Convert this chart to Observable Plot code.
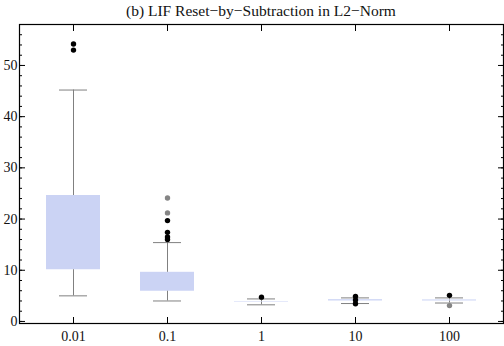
<!DOCTYPE html>
<html><head><meta charset="utf-8">
<script src="https://cdn.jsdelivr.net/npm/d3@7"></script>
<script src="https://cdn.jsdelivr.net/npm/@observablehq/plot@0.6"></script>
<style>
body{margin:0;background:#fff;}
#title{height:22px;width:504px;font-family:"Liberation Serif","Times New Roman",serif;font-size:15.5px;line-height:22px;padding-left:18px;box-sizing:border-box;text-align:center;color:#111;}
svg text{font-family:"Liberation Serif","Times New Roman",serif !important;}
</style></head><body>
<div id="title">(b) LIF Reset−by−Subtraction in L2−Norm</div>
<div id="chart"></div>
<script>
const categories = ["0.01", "0.1", "1", "10", "100"];
const q1 = [10.1, 5.9, 3.8, 4.0, 4.0];
const q3 = [24.6, 9.6, 3.9, 4.25, 4.2];
const whiskerLow = [5.0, 4.0, 3.25, 3.5, 3.6];
const whiskerHigh = [45.2, 15.4, 4.4, 4.6, 4.6];
const outlierCategory = ["0.01","0.01","0.1","0.1","0.1","0.1","0.1","0.1","1","10","10","10","100","100"];
const outlierValue =    [54.2, 53.0, 24.1, 21.2, 19.7, 17.4, 16.5, 16.0, 4.75, 4.9, 4.2, 3.45, 5.1, 3.1];
const outlierKind =     ["near","near","far","far","near","near","near","near","near","near","near","near","near","far"];
const majorTicks = [0, 10, 20, 30, 40, 50];
const minorTicks = d3.range(0, 58, 2);

const boxes = categories.map((c, i) => ({c, q1: q1[i], q3: q3[i], lo: whiskerLow[i], hi: whiskerHigh[i]}));
const outliers = outlierValue.map((v, i) => ({c: outlierCategory[i], v, kind: outlierKind[i]}));

const font = '"Liberation Serif","Times New Roman",serif';
const plot = Plot.plot({
  width: 504, height: 324,
  marginTop: 2, marginBottom: 23, marginLeft: 19, marginRight: 1,
  style: {fontFamily: font, fontSize: "14px", color: "#111", background: "#fff"},
  x: {type: "band", domain: categories, paddingInner: 0.43, paddingOuter: 0.275, axis: null, label: null},
  y: {domain: [-0.4, 58], axis: null, label: null},
  marks: [
    Plot.barY(boxes, {x: "c", y1: "q1", y2: "q3", fill: "#cbd3f4", minHeight: 1}),
    Plot.ruleX(boxes, {x: "c", y1: "lo", y2: "q1", stroke: "#808080", strokeWidth: 1}),
    Plot.ruleX(boxes, {x: "c", y1: "q3", y2: "hi", stroke: "#808080", strokeWidth: 1}),
    Plot.tickY(boxes, {x: "c", y: "lo", stroke: "#808080", insetLeft: 13, insetRight: 13}),
    Plot.tickY(boxes, {x: "c", y: "hi", stroke: "#808080", insetLeft: 13, insetRight: 13}),
    Plot.dot(outliers, {x: "c", y: "v", r: 2.7, fill: d => d.kind === "far" ? "#858585" : "#000", stroke: "none"}),
    Plot.frame({stroke: "#000", strokeWidth: 1.2}),
    Plot.axisY({anchor: "left", ticks: minorTicks, tickSize: -3, text: null, label: null, stroke: "#000"}),
    Plot.axisY({anchor: "left", ticks: majorTicks, tickSize: -6, text: null, label: null, stroke: "#000"}),
    Plot.axisY({anchor: "left", ticks: majorTicks, tickSize: 0, tickPadding: 2, tickFormat: d3.format("d"), label: null, fontSize: 14, fontFamily: font}),
    Plot.axisY({anchor: "right", ticks: minorTicks, tickSize: -3, text: null, label: null, stroke: "#000"}),
    Plot.axisY({anchor: "right", ticks: majorTicks, tickSize: -6, text: null, label: null, stroke: "#000"}),
    Plot.axisX({anchor: "bottom", tickSize: -6, text: null, label: null, stroke: "#000"}),
    Plot.axisX({anchor: "bottom", tickSize: 0, tickPadding: 8, label: null, fontSize: 14, fontFamily: font}),
    Plot.axisX({anchor: "top", tickSize: -6, text: null, label: null, stroke: "#000"})
  ]
});
document.getElementById("chart").appendChild(plot);
</script>
</body></html>
